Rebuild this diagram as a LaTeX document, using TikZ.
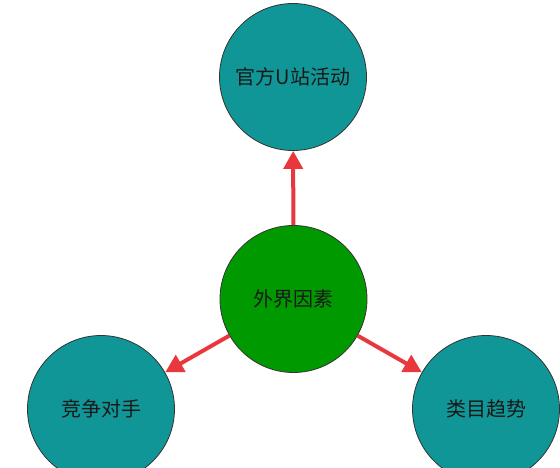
\documentclass[tikz,border=0pt]{standalone}
\usepackage{fontspec}
\newfontfamily\cjk{Noto Sans CJK SC}
\usetikzlibrary{arrows.meta}

\definecolor{tealfill}{RGB}{17,150,152}
\definecolor{greenfill}{RGB}{0,153,0}
\definecolor{arrowred}{RGB}{232,56,61}

\begin{document}
\begin{tikzpicture}[x=1pt,y=-1pt,>={Triangle[length=18pt,width=19pt]},
   factor/.style={circle,draw=black!80,line width=0.8pt,minimum size=147pt,inner sep=0pt,
                  font=\cjk\fontsize{20}{23}\selectfont,text=black!90},
   outer/.style={factor,fill=tealfill},
   core/.style={factor,fill=greenfill}]
   \useasboundingbox (0,0) rectangle (560,468);
   \clip (0,0) rectangle (560,468);

   \node[core]  (ext)   at (293.5,299) {外界因素};
   \node[outer] (event) at (293,77)    {官方U站活动};
   \node[outer] (rival) at (101,409)   {竞争对手};
   \node[outer] (trend) at (486,409)   {类目趋势};

   \path[->,draw=arrowred,fill=arrowred,line width=4pt]
             (ext) edge (event)
                   edge (rival)
                   edge (trend);

\end{tikzpicture}
\end{document}
